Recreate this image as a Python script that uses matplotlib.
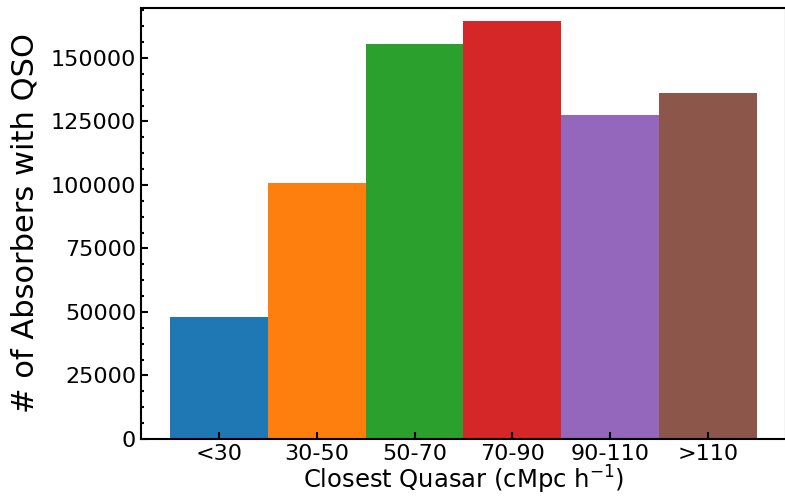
import numpy as np
import matplotlib
matplotlib.use("Agg")
import matplotlib.pyplot as plt
from matplotlib.ticker import AutoMinorLocator, MultipleLocator

# closest-quasar distance bins and absorber counts
bins = ['<30', '30-50', '50-70', '70-90', '90-110', '>110']
counts = [48000, 100800, 155600, 164600, 127600, 136300]
colors = ['C0', 'C1', 'C2', 'C3', 'C4', 'C5']

fig = plt.figure(figsize=(7.85, 4.96), dpi=100)
ax = fig.add_axes([0.1796, 0.115, 0.8216, 0.869])

ax.bar(np.arange(len(bins)), counts, width=1.0, color=colors)

ax.set_xticks(np.arange(len(bins)))
ax.set_xticklabels(bins)
ax.set_xlim(-0.8, len(bins) - 0.2)
ax.set_ylim(0, 169700)
ax.yaxis.set_major_locator(MultipleLocator(25000))
ax.yaxis.set_minor_locator(AutoMinorLocator(4))

ax.tick_params(which='both', direction='in', labelsize=16, width=1.5)
ax.tick_params(which='major', length=5)
ax.tick_params(which='minor', length=2.5)
for s in ax.spines.values():
    s.set_linewidth(1.5)

ax.set_xlabel(r'Closest Quasar (cMpc h$^{-1}$)', fontsize=17.5, labelpad=0)
ax.set_ylabel('# of Absorbers with QSO', fontsize=22, labelpad=8)

fig.savefig('out.png', dpi=100)
